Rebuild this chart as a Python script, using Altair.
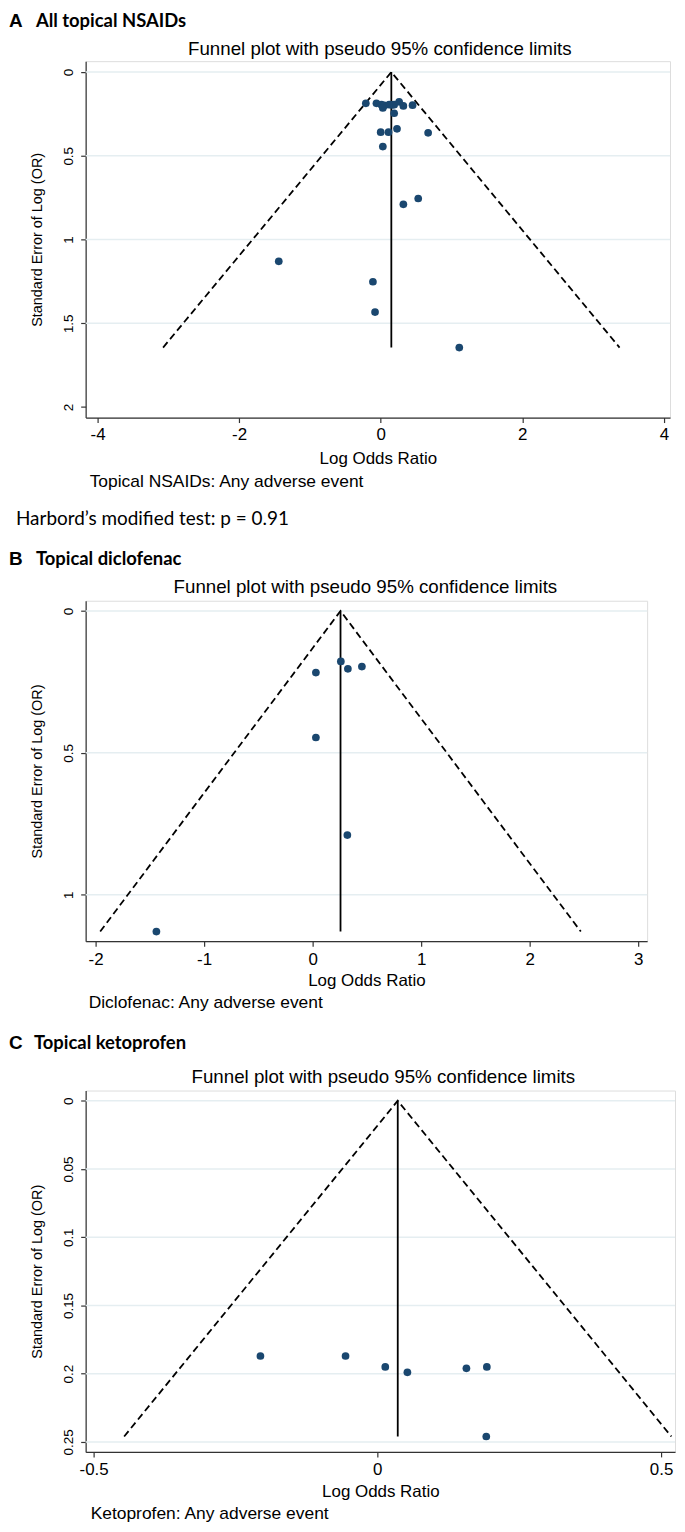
import altair as alt
import pandas as pd

# ---------------- data ----------------
# Panel A: all topical NSAIDs
a_logor = [-0.21, -0.06, 0.01, 0.05, 0.16, 0.19, 0.19, 0.03, 0.26, 0.32, 0.45,
           0.12, 0.00, 0.11, 0.23, 0.67, 0.03, 0.32, 0.53, -1.44, -0.11, -0.08, 1.11]
a_se = [0.187, 0.187, 0.195, 0.199, 0.196, 0.195, 0.246, 0.214, 0.178, 0.202, 0.198,
        0.195, 0.359, 0.359, 0.339, 0.363, 0.445, 0.79, 0.755, 1.13, 1.252, 1.433, 1.645]
a_pooled = 0.15
a_se_max = 1.645

# Panel B: topical diclofenac
b_logor = [0.03, 0.26, 0.325, 0.454, 0.03, 0.32, -1.44]
b_se = [0.217, 0.178, 0.204, 0.196, 0.446, 0.79, 1.13]
b_pooled = 0.257
b_se_max = 1.13

# Panel C: topical ketoprofen
c_logor = [-0.206, -0.056, 0.014, 0.053, 0.157, 0.193, 0.192]
c_se = [0.187, 0.187, 0.195, 0.199, 0.196, 0.195, 0.246]
c_pooled = 0.036
c_se_max = 0.246

z95 = 1.96

# axes
a_xticks = [-4, -2, 0, 2, 4]
a_yticks = [0, 0.5, 1, 1.5, 2]
a_ygrid = [0, 0.5, 1, 1.5]
b_xticks = [-2, -1, 0, 1, 2, 3]
b_yticks = [0, 0.5, 1]
b_ygrid = [0, 0.5, 1]
c_xticks = [-0.5, 0, 0.5]
c_yticks = [0, 0.05, 0.1, 0.15, 0.2, 0.25]
c_ygrid = [0, 0.05, 0.1, 0.15, 0.2, 0.25]

# texts
FUNNEL_TITLE = "Funnel plot with pseudo 95% confidence limits"
X_TITLE = "Log Odds Ratio"
Y_TITLE = "Standard Error of Log (OR)"
a_letter, a_head = "A", "All topical NSAIDs"
b_letter, b_head = "B", "Topical diclofenac"
c_letter, c_head = "C", "Topical ketoprofen"
a_note = "Topical NSAIDs: Any adverse event"
b_note = "Diclofenac: Any adverse event"
c_note = "Ketoprofen: Any adverse event"
a_test = "Harbord\u2019s modified test: p = 0.91"

STATA = "Liberation Sans"
CALIBRI = "Lato"
NAVY = "#1a476f"
GRID = "#e5eef1"
AXIS = "#333333"


def txt(text, x, y, font, size, weight="normal", align="left"):
    return alt.Chart(pd.DataFrame({"t": [text]})).mark_text(
        font=font, fontSize=size, fontWeight=weight, align=align,
        baseline="middle", color="black"
    ).encode(text="t:N", x=alt.value(x), y=alt.value(y))


def panel(logor, se, pooled, se_max, xdom, ydom, xticks, yticks, ygrid, w, h,
          top, bottom, texts, x_lab_pad, x_title_pad):
    pts = pd.DataFrame({"logor": logor, "se": se})
    funnel = pd.DataFrame({
        "logor": [pooled - z95 * se_max, pooled, pooled + z95 * se_max],
        "se": [se_max, 0, se_max],
    })
    vline = pd.DataFrame({"logor": [pooled], "se": [0], "se2": [se_max]})
    grid = pd.DataFrame({"g": ygrid})

    xs = alt.Scale(domain=xdom, nice=False, zero=False)
    ys = alt.Scale(domain=ydom, nice=False, zero=False, reverse=True)
    xaxis = alt.Axis(values=xticks, title=X_TITLE, grid=False,
                     labelExpr="'' + datum.value",
                     labelFont=STATA, labelFontSize=17, labelColor="black",
                     titleFont=STATA, titleFontSize=17, titleFontWeight="normal",
                     titleColor="black", domainColor=AXIS, tickColor=AXIS,
                     domainWidth=1.2, tickWidth=1.2, tickSize=5,
                     labelPadding=x_lab_pad, titlePadding=x_title_pad,
                     labelFlush=False, labelOverlap=False)
    yaxis = alt.Axis(values=yticks, title=Y_TITLE, grid=False,
                     labelExpr="'' + datum.value", labelAngle=270,
                     labelAlign="center", labelBaseline="bottom",
                     labelFont=STATA, labelFontSize=13.5, labelColor="black",
                     titleFont=STATA, titleFontSize=14.5, titleFontWeight="normal",
                     titleColor="black", domainColor=AXIS, tickColor=AXIS,
                     domainWidth=1.2, tickWidth=1.2, tickSize=5,
                     labelPadding=5, titlePadding=17, labelFlush=False,
                     labelOverlap=False)

    spacer = alt.Chart(pd.DataFrame({"s": [0]})).mark_rule(
        opacity=0, strokeWidth=0
    ).encode(x=alt.value(0), y=alt.value(-top), y2=alt.value(h + bottom))
    grid_layer = alt.Chart(grid).mark_rule(color=GRID, strokeWidth=1.6).encode(
        y=alt.Y("g:Q", scale=ys, axis=yaxis)
    )
    funnel_layer = alt.Chart(funnel).mark_line(
        color="black", strokeWidth=1.8, strokeDash=[7, 4]
    ).encode(
        x=alt.X("logor:Q", scale=xs, axis=xaxis),
        y=alt.Y("se:Q", scale=ys, axis=yaxis),
    )
    vline_layer = alt.Chart(vline).mark_rule(color="black", strokeWidth=1.8).encode(
        x=alt.X("logor:Q", scale=xs, axis=xaxis),
        y=alt.Y("se:Q", scale=ys, axis=yaxis),
        y2="se2:Q",
    )
    pts_layer = alt.Chart(pts).mark_circle(color=NAVY, opacity=1, size=60).encode(
        x=alt.X("logor:Q", scale=xs, axis=xaxis),
        y=alt.Y("se:Q", scale=ys, axis=yaxis),
    )
    return alt.layer(spacer, grid_layer, funnel_layer, vline_layer, pts_layer,
                     *texts).properties(width=w, height=h)


# Panel A  (plot 587 x 358, page y 57-415)
wa, ha = 587, 358
A = panel(a_logor, a_se, a_pooled, a_se_max, [-4.168, 4.087], [-0.065, 2.063],
          a_xticks, a_yticks, a_ygrid, wa, ha, 49, 120,
          [txt(a_letter, -77, -40, STATA, 19, "bold"),
           txt(a_head, -50, -40, CALIBRI, 18.5, "bold"),
           txt(FUNNEL_TITLE, wa / 2 + 2, -12, STATA, 18.8, align="center"),
           txt(a_note, 4, ha + 65, STATA, 17.5),
           txt(a_test, -70, ha + 102, CALIBRI, 19)],
          4.5, 8)

# Panel B  (plot 564 x 342, page y 597-939)
wb, hb = 564, 342
B = panel(b_logor, b_se, b_pooled, b_se_max, [-2.092, 3.083], [-0.036, 1.164],
          b_xticks, b_yticks, b_ygrid, wb, hb, 62.3, 80.7,
          [txt(b_letter, -77, -42.3, STATA, 19, "bold"),
           txt(b_head, -50, -42.3, CALIBRI, 18.5, "bold"),
           txt(FUNNEL_TITLE, wb / 2 - 1, -13.3, STATA, 18.8, align="center"),
           txt(b_note, 3, hb + 62.4, STATA, 17.5)],
          5.5, 5)

# Panel C  (plot 592 x 363, page y 1087-1450)
wc, hc = 592, 363
C = panel(c_logor, c_se, c_pooled, c_se_max, [-0.514, 0.5246], [-0.0075, 0.2573],
          c_xticks, c_yticks, c_ygrid, wc, hc, 67, 70,
          [txt(c_letter, -77, -48, STATA, 19, "bold"),
           txt(c_head, -52, -48, CALIBRI, 18.5, "bold"),
           txt(FUNNEL_TITLE, wc / 2 + 3, -14, STATA, 18.8, align="center"),
           txt(c_note, 5, hc + 62, STATA, 17.5)],
          5, 6)

chart = alt.vconcat(A, B, C, spacing=0).properties(
    padding={"left": 0, "top": 0, "right": 0, "bottom": 0}
).configure_view(stroke=None).configure(background="white")

chart.save("out.html", embed_options={"renderer": "svg", "actions": False})
